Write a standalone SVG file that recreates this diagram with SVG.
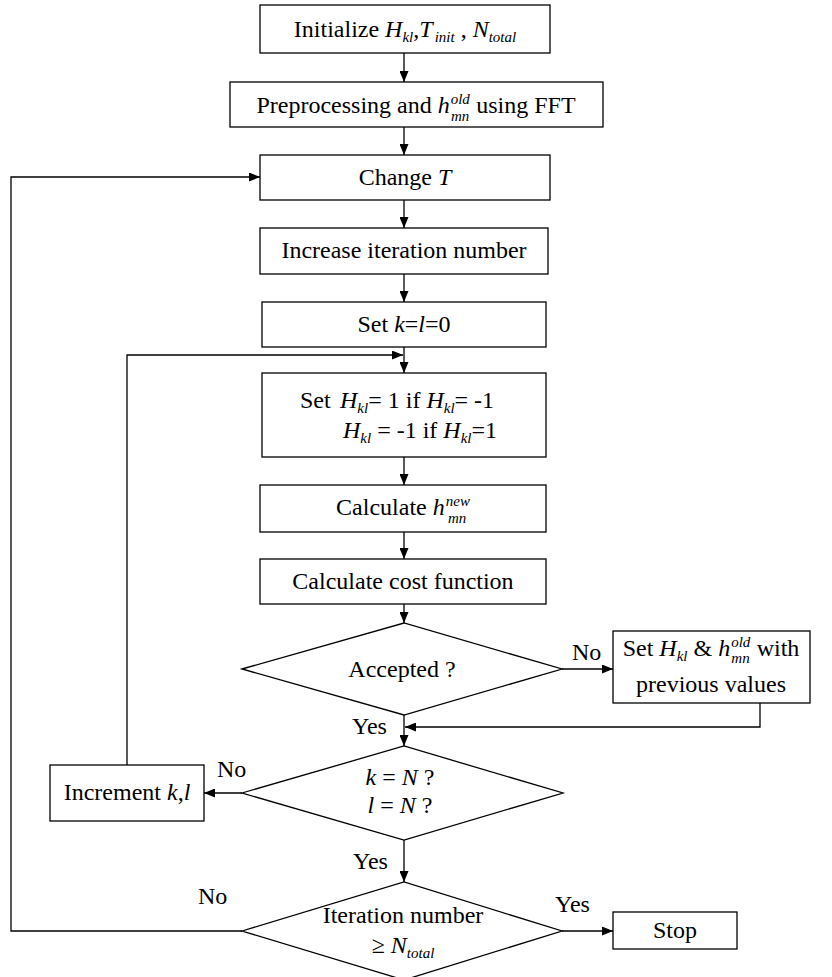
<svg xmlns="http://www.w3.org/2000/svg" width="832" height="977" viewBox="0 0 832 977">
<style>
.box{fill:#fff;stroke:#000;stroke-width:1.3}
.con{fill:none;stroke:#000;stroke-width:1.3}
text{font-family:"Liberation Serif","Times New Roman",serif;font-size:24px;fill:#000}
.i{font-style:italic}
.s{font-size:15px;font-style:italic}
</style>
<defs>
<marker id="ah" markerUnits="userSpaceOnUse" markerWidth="11" markerHeight="9" refX="11" refY="4.5" orient="auto">
<path d="M0,0 L11,4.5 L0,9 z" fill="#000"/>
</marker>
</defs>
<rect width="832" height="977" fill="#fff"/>
<g id="connectors">
<path class="con" marker-end="url(#ah)" d="M404 53 V82"/>
<path class="con" marker-end="url(#ah)" d="M404 127 V155"/>
<path class="con" marker-end="url(#ah)" d="M404 200 V228"/>
<path class="con" marker-end="url(#ah)" d="M404 274 V302"/>
<path class="con" marker-end="url(#ah)" d="M404 347 V373"/>
<path class="con" marker-end="url(#ah)" d="M404 457 V485"/>
<path class="con" marker-end="url(#ah)" d="M404 532 V559"/>
<path class="con" marker-end="url(#ah)" d="M404 604 V623"/>
<path class="con" marker-end="url(#ah)" d="M562 669 H613"/>
<path class="con" marker-end="url(#ah)" d="M760 703 V727 H405"/>
<path class="con" marker-end="url(#ah)" d="M404 715 V746"/>
<path class="con" marker-end="url(#ah)" d="M242 793 H204"/>
<path class="con" marker-end="url(#ah)" d="M127 765 V355 H403"/>
<path class="con" marker-end="url(#ah)" d="M404 840 V882"/>
<path class="con" marker-end="url(#ah)" d="M562 931 H613"/>
<path class="con" marker-end="url(#ah)" d="M242 931 H11 V177 H260"/>
</g>
<g id="init">
<rect class="box" x="260" y="5" width="290" height="48"/>
<text x="405" y="37" text-anchor="middle">Initialize <tspan class="i">H</tspan><tspan class="s" dy="5">kl</tspan><tspan dy="-5">,</tspan><tspan class="i">T</tspan><tspan class="s" dy="5" dx="2">init</tspan><tspan dy="-5"> , </tspan><tspan class="i">N</tspan><tspan class="s" dy="5">total</tspan></text>
</g>
<g id="preprocess">
<rect class="box" x="230" y="82" width="373" height="45"/>
<text x="416" y="113" text-anchor="middle">Preprocessing and <tspan class="i">h</tspan><tspan class="s" dy="-9" dx="1">old</tspan><tspan class="s" dx="-19" dy="17">mn</tspan><tspan dy="-8" dx="1"> using FFT</tspan></text>
</g>
<g id="changeT">
<rect class="box" x="260" y="155" width="290" height="45"/>
<text x="405" y="185" text-anchor="middle">Change <tspan class="i">T</tspan></text>
</g>
<g id="increase">
<rect class="box" x="260" y="228" width="288" height="46"/>
<text x="404" y="258" text-anchor="middle">Increase iteration number</text>
</g>
<g id="setkl">
<rect class="box" x="262" y="302" width="284" height="45"/>
<text x="404" y="332" text-anchor="middle">Set <tspan class="i">k</tspan>=<tspan class="i">l</tspan>=0</text>
</g>
<g id="flip">
<rect class="box" x="262" y="373" width="284" height="84"/>
<text x="300" y="408">Set<tspan x="340" class="i">H</tspan><tspan class="s" dy="5">kl</tspan><tspan dy="-5">= 1 if </tspan><tspan class="i">H</tspan><tspan class="s" dy="5">kl</tspan><tspan dy="-5">= -1</tspan></text>
<text x="343" y="438"><tspan class="i">H</tspan><tspan class="s" dy="5">kl</tspan><tspan dy="-5"> = -1 if </tspan><tspan class="i">H</tspan><tspan class="s" dy="5">kl</tspan><tspan dy="-5">=1</tspan></text>
</g>
<g id="calch">
<rect class="box" x="260" y="485" width="286" height="47"/>
<text x="403" y="515" text-anchor="middle">Calculate <tspan class="i">h</tspan><tspan class="s" dy="-9" dx="1">new</tspan><tspan class="s" dx="-22" dy="17">mn</tspan></text>
</g>
<g id="cost">
<rect class="box" x="260" y="559" width="286" height="45"/>
<text x="403" y="589" text-anchor="middle">Calculate cost function</text>
</g>
<g id="accepted">
<polygon class="box" points="242,669 404,623 562,669 404,715"/>
<text x="402" y="677" text-anchor="middle">Accepted ?</text>
<text x="572" y="660">No</text>
<text x="352" y="734">Yes</text>
</g>
<g id="restore">
<rect class="box" x="613" y="631" width="197" height="72"/>
<text x="711" y="656" text-anchor="middle">Set <tspan class="i">H</tspan><tspan class="s" dy="5">kl</tspan><tspan dy="-5"> &amp; </tspan><tspan class="i">h</tspan><tspan class="s" dy="-9" dx="1">old</tspan><tspan class="s" dx="-19" dy="16">mn</tspan><tspan dy="-7" dx="1"> with</tspan></text>
<text x="711" y="692" text-anchor="middle">previous values</text>
</g>
<g id="kln">
<polygon class="box" points="242,793 404,746 563,793 404,840"/>
<text x="400" y="785" text-anchor="middle"><tspan class="i">k</tspan> = <tspan class="i">N</tspan> ?</text>
<text x="400" y="813" text-anchor="middle"><tspan class="i">l</tspan> = <tspan class="i">N</tspan> ?</text>
<text x="217" y="777">No</text>
<text x="353" y="869">Yes</text>
</g>
<g id="increment">
<rect class="box" x="50" y="765" width="154" height="56"/>
<text x="127" y="800" text-anchor="middle">Increment <tspan class="i">k</tspan>,<tspan class="i">l</tspan></text>
</g>
<g id="iterdone">
<polygon class="box" points="242,931 404,882 562,931 404,980"/>
<text x="403" y="923" text-anchor="middle">Iteration number</text>
<text x="403" y="953" text-anchor="middle">≥ <tspan class="i">N</tspan><tspan class="s" dy="5">total</tspan></text>
<text x="198" y="904">No</text>
<text x="555" y="912">Yes</text>
</g>
<g id="stop">
<rect class="box" x="613" y="912" width="124" height="37"/>
<text x="675" y="938" text-anchor="middle">Stop</text>
</g>
</svg>
